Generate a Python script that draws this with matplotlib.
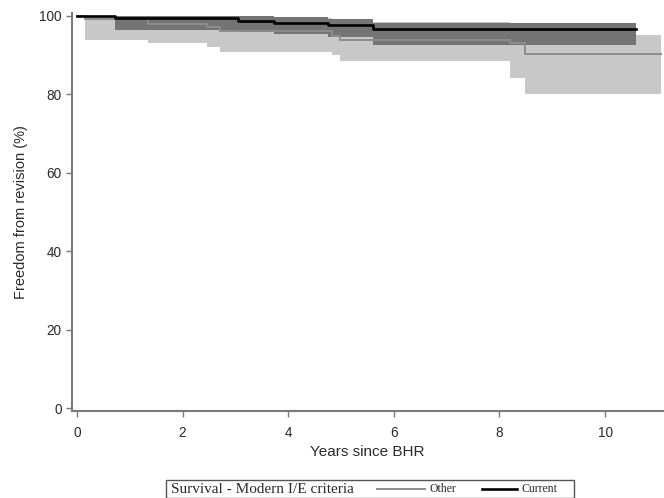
import numpy as np
import matplotlib
matplotlib.use('Agg')
import matplotlib.pyplot as plt
from matplotlib.patches import Rectangle
from matplotlib.lines import Line2D

# Kaplan-Meier steps (years, % free from revision)
t_other = [0, 0.15, 1.35, 2.46, 2.71, 4.82, 4.98, 8.2, 8.48, 11.06]
s_other = [100, 99.2, 97.9, 97.0, 96.1, 94.8, 93.7, 92.9, 90.2, 90.2]
lo_other = [100, 93.8, 92.9, 92.0, 90.8, 89.9, 88.3, 84.0, 80.0, 80.0]
hi_other = [100, 100, 99.9, 99.7, 99.3, 98.9, 98.4, 98.0, 95.1, 95.1]

t_cur = [0, 0.72, 3.05, 3.73, 4.76, 5.6, 10.59]
s_cur = [100, 99.3, 98.7, 98.1, 97.6, 96.5, 96.5]
lo_cur = [100, 96.3, 95.9, 95.3, 94.6, 92.6, 92.6]
hi_cur = [100, 100, 99.8, 99.5, 99.1, 98.2, 98.2]

x_ticks = [0, 2, 4, 6, 8, 10]
y_ticks = [0, 20, 40, 60, 80, 100]

W, H = 664, 498
fig = plt.figure(figsize=(W / 100, H / 100), dpi=100)
ax = fig.add_axes([71.5 / W, 1 - 411 / H, 591.5 / W, 398 / H])

ax.fill_between(t_other, lo_other, hi_other, step='post', color='#c8c8c8', lw=0)
ax.fill_between(t_cur, lo_cur, hi_cur, step='post', color='#747474', lw=0)
ax.plot(t_other, s_other, drawstyle='steps-post', color='#8c8c8c', lw=1.4)
ax.plot(t_cur, s_cur, drawstyle='steps-post', color='black', lw=1.9)

ax.set_xlim(-0.104, 11.098)
ax.set_ylim(-0.76, 100.64)
ax.set_xticks(x_ticks)
ax.set_yticks(y_ticks)

axis_col = '#7a7a7a'
for side in ['top', 'right']:
    ax.spines[side].set_visible(False)
for side in ['left', 'bottom']:
    ax.spines[side].set_color(axis_col)
    ax.spines[side].set_linewidth(1.5)
ax.tick_params(colors=axis_col, width=1.0, length=4.5, labelcolor='#2a2a2a',
               labelsize=9.8)
for lab in ax.get_xticklabels() + ax.get_yticklabels():
    lab.set_family('Liberation Sans')
ax.tick_params(axis='x', pad=6)
ax.tick_params(axis='y', pad=2.5)

ax.set_xlabel('Years since BHR', fontsize=11, family='Liberation Sans',
              color='#2a2a2a', labelpad=4)
ax.set_ylabel('Freedom from revision (%)', fontsize=10.5, family='Liberation Sans',
              color='#2a2a2a', labelpad=8)

# legend box drawn by hand, Stata style
fig.patches.append(Rectangle((166 / W, 1 - 497.5 / H), 408 / W, 17.5 / H,
                             transform=fig.transFigure, fill=False,
                             edgecolor='#555555', lw=1.0))
yc = 1 - 489 / H
fig.text(171 / W, yc, 'Survival - Modern I/E criteria', family='Liberation Serif',
         fontsize=11, va='center', ha='left', color='#2a2a2a')
fig.lines.append(Line2D([377 / W, 425 / W], [yc, yc], transform=fig.transFigure,
                        color='#8c8c8c', lw=1.4))
fig.text(429 / W, yc, 'Other', family='Liberation Serif', fontsize=8.5,
         va='center', ha='left', color='#2a2a2a')
fig.lines.append(Line2D([482 / W, 517 / W], [yc, yc], transform=fig.transFigure,
                        color='black', lw=1.9))
fig.text(522 / W, yc, 'Current', family='Liberation Serif', fontsize=8.5,
         va='center', ha='left', color='#2a2a2a')

fig.savefig('out.png', dpi=100)
